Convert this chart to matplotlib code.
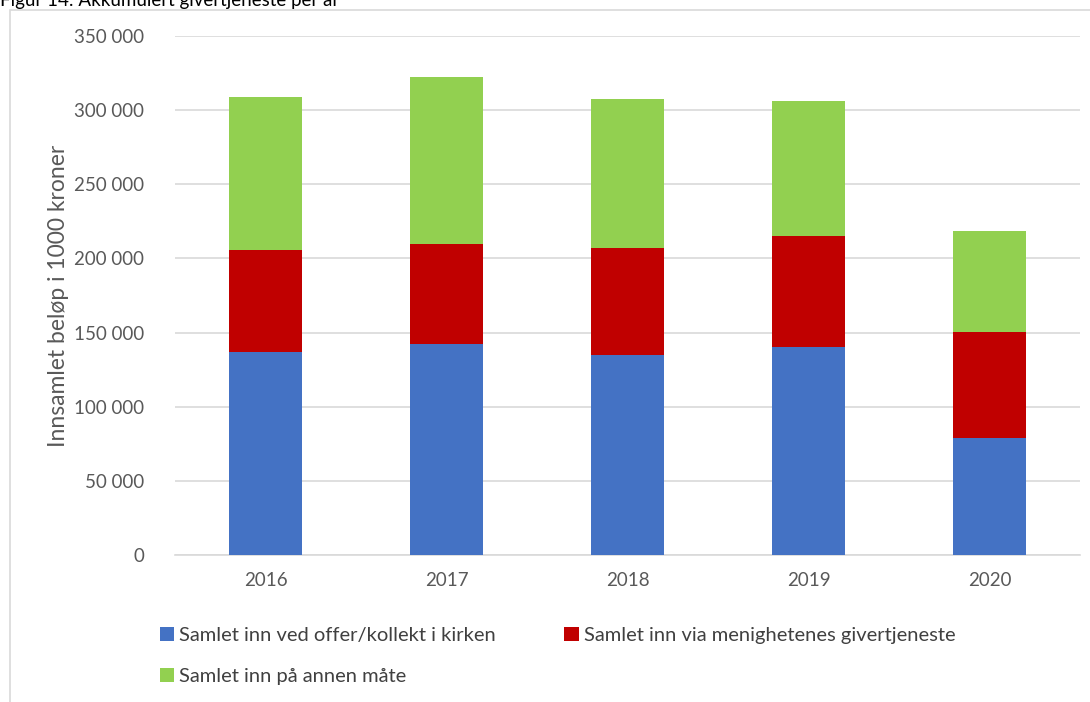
import numpy as np
import matplotlib.pyplot as plt
from matplotlib.patches import Rectangle
from matplotlib.ticker import FuncFormatter

plt.rcParams['font.family'] = ['Lato', 'DejaVu Sans']

years = ['2016', '2017', '2018', '2019', '2020']
offer = [137000, 142300, 135000, 140300, 79000]
givertj = [68700, 67400, 72000, 74800, 71400]
annen = [103300, 112600, 100500, 91000, 68100]

labels = ['Samlet inn ved offer/kollekt i kirken',
          'Samlet inn via menighetenes givertjeneste',
          'Samlet inn på annen måte']
colors = ['#4472c4', '#c00000', '#92d050']

fig = plt.figure(figsize=(10.9, 7.02), dpi=100)
ax = fig.add_axes([175/1090, 1-555/702, 905/1090, 519/702])

# outer chart frame (cut off at right/bottom like the source)
fig.patches.append(Rectangle((10/1090, -0.05), 1.2, 1 - 10/702 + 0.05,
                             transform=fig.transFigure, fill=False,
                             edgecolor='#d9d9d9', lw=1.2))
fig.text(0.0, 1 - 6/702, 'Figur 14: Akkumulert givertjeneste per år',
         fontsize=13.5, va='baseline', ha='left', color='black')

x = np.arange(len(years))
w = 0.4
b1 = ax.bar(x, offer, w, color=colors[0], label=labels[0], zorder=3)
b2 = ax.bar(x, givertj, w, bottom=offer, color=colors[1], label=labels[1], zorder=3)
bottom2 = np.array(offer) + np.array(givertj)
b3 = ax.bar(x, annen, w, bottom=bottom2, color=colors[2], label=labels[2], zorder=3)

ax.set_xlim(-0.5, len(years) - 0.5)
ax.set_ylim(0, 350000)
ax.set_yticks(np.arange(0, 350001, 50000))
ax.yaxis.set_major_formatter(FuncFormatter(lambda v, p: f'{int(v):,}'.replace(',', ' ')))
ax.set_xticks(x)
ax.set_xticklabels(years)
ax.grid(axis='y', color='#d9d9d9', lw=1.2, zorder=0)
for s in ['top', 'right', 'left']:
    ax.spines[s].set_visible(False)
ax.spines['bottom'].set_color('#d9d9d9')
ax.spines['bottom'].set_linewidth(1.2)
ax.tick_params(axis='both', length=0, labelsize=13.5, colors='#595959')
ax.tick_params(axis='y', pad=22)
ax.tick_params(axis='x', pad=12)
ax.set_ylabel('Innsamlet beløp i 1000 kroner', fontsize=16.5, color='#595959', labelpad=4)

# row-wise order: blue, red on first row, green on second
leg = fig.legend(handles=[b1, b3, b2], labels=[labels[0], labels[2], labels[1]],
                 loc='upper left', bbox_to_anchor=(142/1090, 1-609/702), ncol=2,
                 frameon=False, fontsize=14.5, handlelength=0.7, handleheight=0.7,
                 handletextpad=0.25, columnspacing=3.4, labelspacing=1.2,
                 labelcolor='#404040')

fig.savefig('out.png', dpi=100)
